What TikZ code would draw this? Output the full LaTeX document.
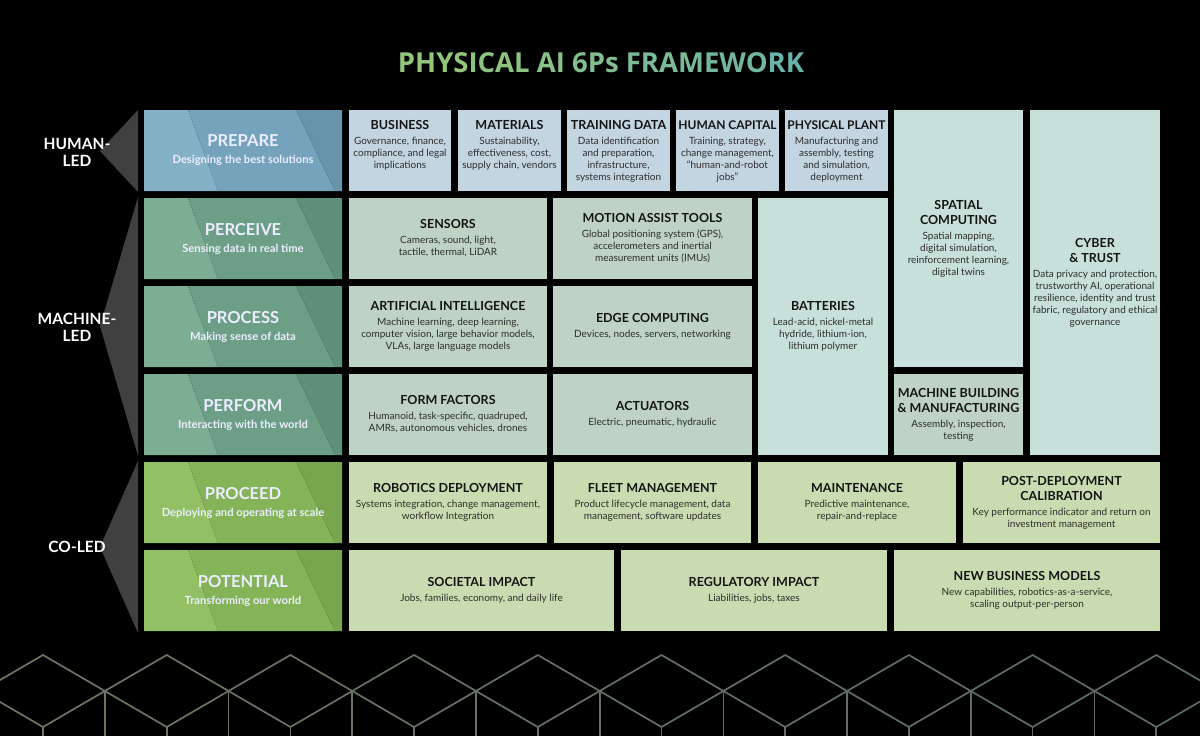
\documentclass[tikz,border=0pt]{standalone}
\usepackage{fontspec}
\setmainfont{Lato}
\newfontfamily\ttlfont{Open Sans}
\definecolor{rowblue}{RGB}{196,213,226}
\definecolor{cteal}{RGB}{199,225,218}
\definecolor{csage}{RGB}{191,211,197}
\definecolor{cgreen}{RGB}{201,220,177}
\definecolor{bodygray}{RGB}{45,45,45}
\definecolor{ttlblack}{RGB}{20,20,20}
\definecolor{sidegray}{RGB}{64,64,64}
\definecolor{pbA}{RGB}{133,177,199}
\definecolor{pbB}{RGB}{117,163,188}
\definecolor{pbC}{RGB}{103,148,171}
\definecolor{pgA}{RGB}{125,174,148}
\definecolor{pgB}{RGB}{109,159,134}
\definecolor{pgC}{RGB}{96,144,121}
\definecolor{plA}{RGB}{147,191,101}
\definecolor{plB}{RGB}{133,180,88}
\definecolor{plC}{RGB}{120,165,78}
\definecolor{tA}{RGB}{146,198,122}
\definecolor{tB}{RGB}{106,178,172}
\definecolor{lnA}{RGB}{108,118,99}
\definecolor{lnB}{RGB}{92,104,106}
\newcommand\hd[1]{{\fontsize{12.5}{14}\selectfont\bfseries\color{ttlblack}#1}}
\newcommand\hdrtitle[1]{{\fontsize{16.5}{18}\selectfont\bfseries #1}}
\newcommand\mkcell[6]{%
  \node[cellbox, fill=#6, minimum width={(#4-#2)*1pt}, minimum height={(#5-#3)*1pt}] (#1) at ({(#2+#4)/2},{(#3+#5)/2}) {};}
\newcommand\mkhdr[6]{%
  \fill[#4] (144,#2) -- (188,#2) -- (218,#3) -- (144,#3) -- cycle;
  \fill[#5] (188,#2) -- (296,#2) -- (335,#3) -- (218,#3) -- cycle;
  \fill[#6] (296,#2) -- (342,#2) -- (342,#3) -- (335,#3) -- cycle;
  \node[cellbox, minimum width=198pt, minimum height={(#3-#2)*1pt}] (#1) at (243,{(#2+#3)/2}) {};}
\begin{document}
\begin{tikzpicture}[x=1pt,y=-1pt,
  cellbox/.style={inner sep=0pt, outer sep=0pt, draw=none, rectangle},
  body/.style={align=center, inner sep=0pt, font=\fontsize{10}{12}\selectfont, text=bodygray},
  hdrtext/.style={align=center, inner sep=0pt, font=\fontsize{11.2}{12}\selectfont\bfseries, text=white!93!blue},
  sidelabel/.style={align=center, inner sep=0pt, font=\fontsize{15.5}{17}\selectfont\bfseries, text=white},
  patline/.style={line width=1.7pt}]
\useasboundingbox (0,0) rectangle (1200,736);
\fill[black] (0,0) rectangle (1200,736);

% title
\node[inner sep=0pt] (title) at (601,63) {\ttlfont\bfseries\fontsize{27.5}{32}\selectfont
  \textcolor{tA}{PHYS}\textcolor{tA!86!tB}{ICAL}\ \textcolor{tA!74!tB}{AI}\ \textcolor{tA!60!tB}{6Ps}\ \textcolor{tA!42!tB}{FRAM}\textcolor{tA!20!tB}{EWO}\textcolor{tB}{RK}};

% side triangles
\fill[sidegray] (138,110) -- (100,151) -- (138,192) -- cycle;
\fill[sidegray] (138,197) -- (100,326) -- (138,456) -- cycle;
\fill[sidegray] (138,461) -- (100,547) -- (138,633) -- cycle;
\node[sidelabel] (humanled) at (77,152) {HUMAN-\\LED};
\node[sidelabel] (machineled) at (77,327) {MACHINE-\\LED};
\node[sidelabel] (coled) at (77,547) {CO-LED};

% row headers
\mkhdr{prepare}{110}{191}{pbA}{pbB}{pbC}
\mkhdr{perceive}{198}{279}{pgA}{pgB}{pgC}
\mkhdr{process}{286}{367}{pgA}{pgB}{pgC}
\mkhdr{perform}{374}{455}{pgA}{pgB}{pgC}
\mkhdr{proceed}{462}{543}{plA}{plB}{plC}
\mkhdr{potential}{550}{631}{plA}{plB}{plC}
\node[hdrtext] (prepare-t) at (prepare.center) {\hdrtitle{PREPARE}\\[5pt]Designing the best solutions};
\node[hdrtext] (perceive-t) at (perceive.center) {\hdrtitle{PERCEIVE}\\[5pt]Sensing data in real time};
\node[hdrtext] (process-t) at (process.center) {\hdrtitle{PROCESS}\\[5pt]Making sense of data};
\node[hdrtext] (perform-t) at (perform.center) {\hdrtitle{PERFORM}\\[5pt]Interacting with the world};
\node[hdrtext] (proceed-t) at (proceed.center) {\hdrtitle{PROCEED}\\[5pt]Deploying and operating at scale};
\node[hdrtext] (potential-t) at (potential.center) {\hdrtitle{POTENTIAL}\\[5pt]Transforming our world};

% row 1 cells
\mkcell{business}{349}{110}{451}{191}{rowblue}
\mkcell{materials}{458}{110}{561}{191}{rowblue}
\mkcell{training}{567}{110}{670}{191}{rowblue}
\mkcell{humancap}{676}{110}{779}{191}{rowblue}
\mkcell{plant}{785}{110}{888}{191}{rowblue}
\mkcell{spatial}{894}{110}{1023}{367}{cteal}
\mkcell{cyber}{1030}{110}{1160}{455}{cteal}
% rows 2-4
\mkcell{sensors}{349}{198}{547}{279}{csage}
\mkcell{motion}{553}{198}{752}{279}{csage}
\mkcell{batteries}{758}{198}{888}{455}{cteal}
\mkcell{ai}{349}{286}{547}{367}{csage}
\mkcell{edge}{553}{286}{752}{367}{csage}
\mkcell{form}{349}{374}{547}{455}{csage}
\mkcell{actuators}{553}{374}{752}{455}{csage}
\mkcell{machine}{894}{374}{1023}{455}{csage}
% row 5
\mkcell{robotics}{349}{462}{547}{543}{cgreen}
\mkcell{fleet}{554}{462}{751}{543}{cgreen}
\mkcell{maint}{758}{462}{956}{543}{cgreen}
\mkcell{post}{963}{462}{1160}{543}{cgreen}
% row 6
\mkcell{societal}{349}{550}{614}{631}{cgreen}
\mkcell{regulatory}{621}{550}{887}{631}{cgreen}
\mkcell{newbiz}{894}{550}{1160}{631}{cgreen}

% texts row 1 (top aligned)
\node[body, anchor=north] (business-t) at ([yshift=-10.5pt]business.north) {\hd{BUSINESS}\\[3pt]Governance, finance,\\compliance, and legal\\implications};
\node[body, anchor=north] (materials-t) at ([yshift=-10.5pt]materials.north) {\hd{MATERIALS}\\[3pt]Sustainability,\\effectiveness, cost,\\supply chain, vendors};
\node[body, anchor=north] (training-t) at ([yshift=-10.5pt]training.north) {\hd{TRAINING DATA}\\[3pt]Data identification\\and preparation,\\infrastructure,\\systems integration};
\node[body, anchor=north] (humancap-t) at ([yshift=-10.5pt]humancap.north) {{\fontsize{12}{14}\selectfont\bfseries\color{ttlblack}HUMAN CAPITAL}\\[3pt]Training, strategy,\\change management,\\“human-and-robot\\jobs”};
\node[body, anchor=north] (plant-t) at ([yshift=-10.5pt]plant.north) {{\fontsize{12}{14}\selectfont\bfseries\color{ttlblack}PHYSICAL PLANT}\\[3pt]Manufacturing and\\assembly, testing\\and simulation,\\deployment};
% centered texts
\node[body] (spatial-t) at (spatial.center) {\hd{SPATIAL}\\[3pt]\hd{COMPUTING}\\[3pt]Spatial mapping,\\digital simulation,\\reinforcement learning,\\digital twins};
\node[body] (cyber-t) at (cyber.center) {\hd{CYBER}\\[3pt]\hd{\& TRUST}\\[3pt]Data privacy and protection,\\trustworthy AI, operational\\resilience, identity and trust\\fabric, regulatory and ethical\\governance};
\node[body] (sensors-t) at (sensors.center) {\hd{SENSORS}\\[3pt]Cameras, sound, light,\\tactile, thermal, LiDAR};
\node[body] (motion-t) at (motion.center) {\hd{MOTION ASSIST TOOLS}\\[3pt]Global positioning system (GPS),\\accelerometers and inertial\\measurement units (IMUs)};
\node[body] (batteries-t) at (batteries.center) {\hd{BATTERIES}\\[3pt]Lead-acid, nickel-metal\\hydride, lithium-ion,\\lithium polymer};
\node[body] (ai-t) at (ai.center) {\hd{ARTIFICIAL INTELLIGENCE}\\[3pt]Machine learning, deep learning,\\computer vision, large behavior models,\\VLAs, large language models};
\node[body] (edge-t) at (edge.center) {\hd{EDGE COMPUTING}\\[3pt]Devices, nodes, servers, networking};
\node[body] (form-t) at (form.center) {\hd{FORM FACTORS}\\[3pt]Humanoid, task-specific, quadruped,\\AMRs, autonomous vehicles, drones};
\node[body] (actuators-t) at (actuators.center) {\hd{ACTUATORS}\\[3pt]Electric, pneumatic, hydraulic};
\node[body] (machine-t) at (machine.center) {\hd{MACHINE BUILDING}\\[3pt]\hd{\& MANUFACTURING}\\[3pt]Assembly, inspection,\\testing};
\node[body] (robotics-t) at (robotics.center) {\hd{ROBOTICS DEPLOYMENT}\\[3pt]Systems integration, change management,\\workflow Integration};
\node[body] (fleet-t) at (fleet.center) {\hd{FLEET MANAGEMENT}\\[3pt]Product lifecycle management, data\\management, software updates};
\node[body] (maint-t) at (maint.center) {\hd{MAINTENANCE}\\[3pt]Predictive maintenance,\\repair-and-replace};
\node[body] (post-t) at (post.center) {\hd{POST-DEPLOYMENT}\\[3pt]\hd{CALIBRATION}\\[3pt]Key performance indicator and return on\\investment management};
\node[body] (societal-t) at (societal.center) {\hd{SOCIETAL IMPACT}\\[3pt]Jobs, families, economy, and daily life};
\node[body] (regulatory-t) at (regulatory.center) {\hd{REGULATORY IMPACT}\\[3pt]Liabilities, jobs, taxes};
\node[body] (newbiz-t) at (newbiz.center) {\hd{NEW BUSINESS MODELS}\\[3pt]New capabilities, robotics-as-a-service,\\scaling output-per-person};

% bottom cube pattern
\begin{scope}
\clip (0,0) rectangle (1200,736);
\foreach \k in {-1,...,10} {
  \pgfmathsetmacro\cx{43+123.7*\k}
  \pgfmathtruncatemacro\pp{max(0,min(100,100-\k*10))}
  \draw[patline, color=lnA!\pp!lnB, line join=miter] (\cx,655) -- ++(61.85,36) -- ++(-61.85,36) -- ++(-61.85,-36) -- cycle;
  \draw[patline, color=lnA!\pp!lnB] (\cx+61.85,691) -- (\cx+61.85,740);
  \draw[patline, color=lnA!\pp!lnB] (\cx,727) -- (\cx,740);
}
\end{scope}
\end{tikzpicture}
\end{document}
